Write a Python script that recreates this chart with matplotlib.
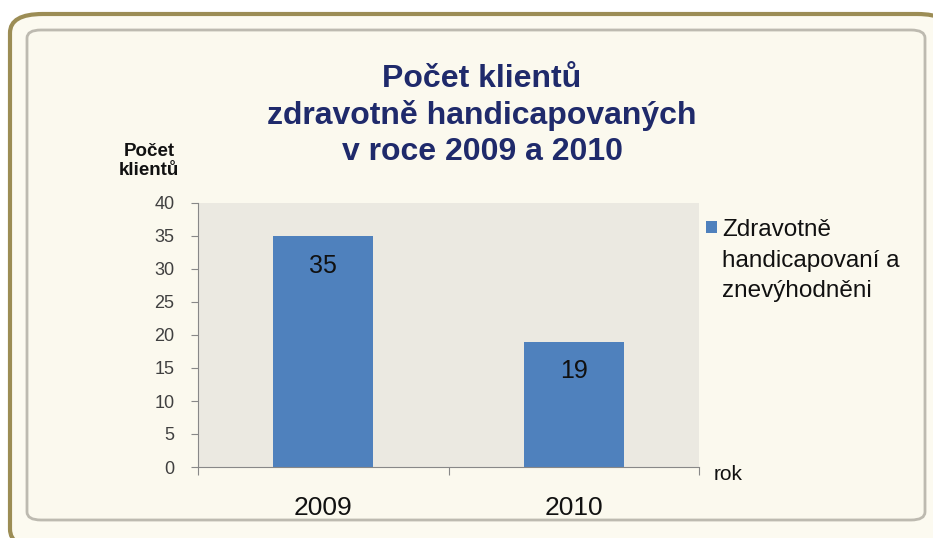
import matplotlib.pyplot as plt
from matplotlib.patches import FancyBboxPatch, Rectangle

years = ['2009', '2010']
clients = [35, 19]
series_name = 'Zdravotně\nhandicapovaní a\nznevýhodněni'
yticks = [0, 5, 10, 15, 20, 25, 30, 35, 40]
bar_color = '#4f81bd'

plt.rcParams['font.family'] = ['Liberation Sans', 'DejaVu Sans']

fig = plt.figure(figsize=(9.33, 5.38), dpi=100)
fig.patch.set_facecolor('white')
W, H = 933, 538

# outer rounded frame (olive) and inner panel
outer = FancyBboxPatch((10 / W, -10 / H), 940 / W, 534 / H,
                       boxstyle='round,pad=0,rounding_size=0.035',
                       transform=fig.transFigure, facecolor='#fcfaf0',
                       edgecolor='#9c8d55', linewidth=3, zorder=0)
fig.patches.append(outer)
inner = FancyBboxPatch((27 / W, 18 / H), 898 / W, 490 / H,
                       boxstyle='round,pad=0,rounding_size=0.015',
                       transform=fig.transFigure, facecolor='#fbf9ee',
                       edgecolor='#bdbab0', linewidth=2, zorder=0)
fig.patches.append(inner)

ax = fig.add_axes([198 / W, 1 - 467 / H, (699 - 198) / W, (467 - 203) / H])
ax.set_zorder(2)
ax.set_facecolor('#ebe9e1')
x = range(len(years))
bars = ax.bar(x, clients, width=0.40, color=bar_color, zorder=2)
ax.set_xlim(-0.5, 1.5)
ax.set_ylim(0, 40)
ax.set_yticks(yticks)
ax.set_yticklabels([str(t) for t in yticks], color='#404040', fontsize=13)
ax.tick_params(axis='y', length=5, color='#888888', pad=12)
ax.set_xticks([-0.5, 0.5, 1.5])
ax.set_xticklabels([])
ax.tick_params(axis='x', length=6, color='#888888', direction='out')
for s in ['top', 'right']:
    ax.spines[s].set_visible(False)
for s in ['left', 'bottom']:
    ax.spines[s].set_color('#888888')

for i, v in enumerate(clients):
    ax.text(i, v - 4.5, str(v), ha='center', va='center', fontsize=18, color='#111111', zorder=3)
    ax.text(i, -6.2, years[i], ha='center', va='center', fontsize=19, color='#111111', clip_on=False)

fig.text(482 / W, 1 - 115.5 / H, 'Počet klientů\nzdravotně handicapovaných\nv roce 2009 a 2010',
         ha='center', va='center', fontsize=23, fontweight='bold', color='#1f2a6b',
         linespacing=1.27)
fig.text(149 / W, 1 - 161 / H, 'Počet\nklientů', ha='center', va='center', fontsize=13.5,
         fontweight='bold', color='#111111', linespacing=1.1)
fig.text(714 / W, 1 - 474 / H, 'rok', ha='left', va='center', fontsize=15, color='#111111')

# legend: square key + multi-line label
fig.patches.append(Rectangle((706 / W, 1 - 233 / H), 11 / W, 12 / H,
                             transform=fig.transFigure, facecolor=bar_color,
                             edgecolor='none', zorder=3))
fig.text(722 / W, 1 - 219 / H, series_name, ha='left', va='top', fontsize=17.5,
         color='#111111', linespacing=1.5)

fig.savefig('out.png', dpi=100, facecolor='white')
